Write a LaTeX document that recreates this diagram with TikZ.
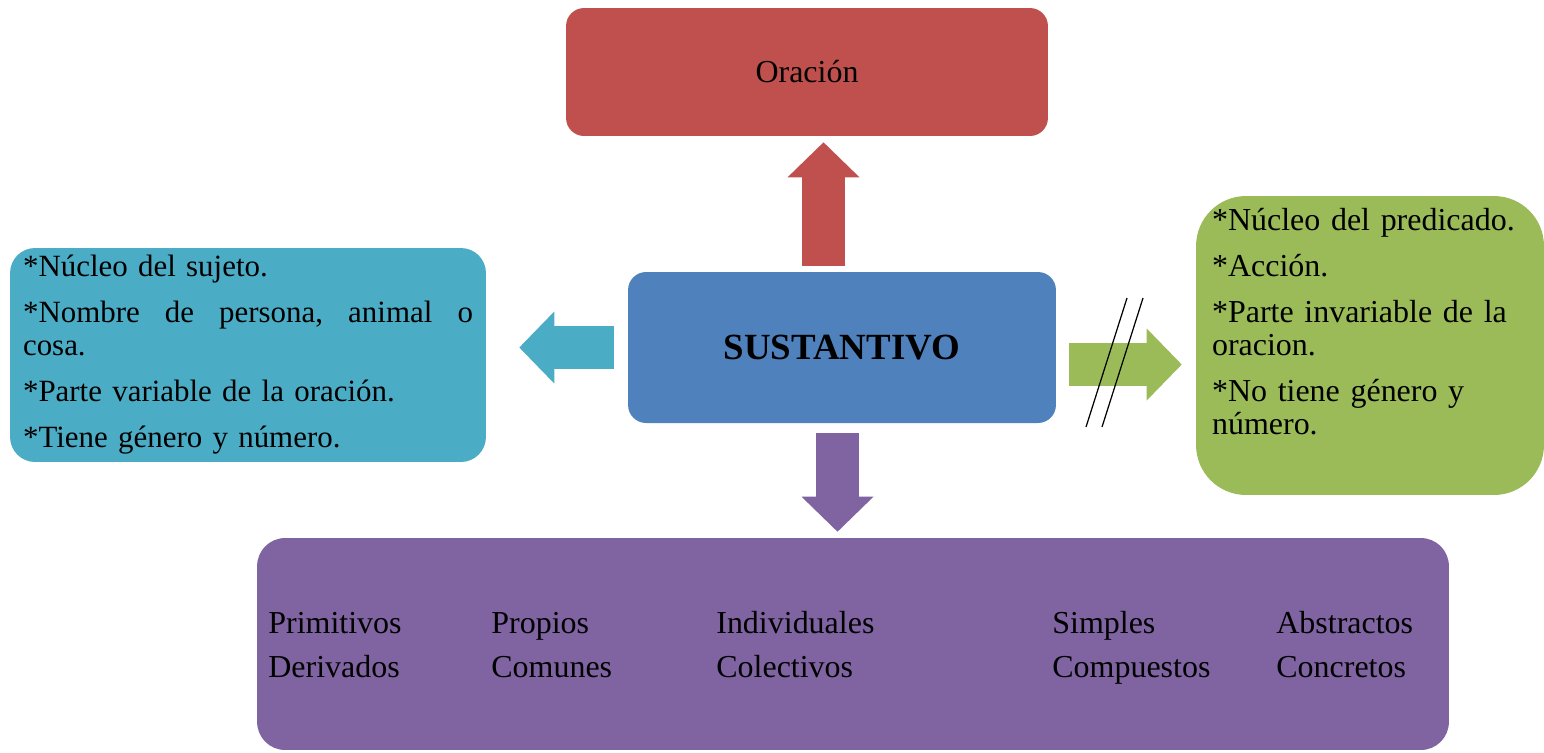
\documentclass[tikz,border=0pt]{standalone}
\usepackage{fontspec}
\setmainfont{Liberation Serif}
\usepackage{xcolor}
\usetikzlibrary{positioning,arrows.meta}
\definecolor{oraRed}{HTML}{C0504D}
\definecolor{sustBlue}{HTML}{4F81BD}
\definecolor{sujCyan}{HTML}{4BACC6}
\definecolor{predGreen}{HTML}{9BBB59}
\definecolor{clsPurple}{HTML}{8064A2}
\newcommand\txtsize{\fontsize{18.2}{18.8}\selectfont}

\begin{document}
\begin{tikzpicture}[x=0.02cm,y=-0.02cm,
  box/.style={rounded corners=#1, inner sep=0pt, font=\txtsize},
  blockarrow/.style={draw=#1, line width=0.86cm, -{Triangle[length=0.7cm,width=1.44cm,line width=0pt]}},
  word/.style={anchor=base west, inner sep=0pt, font=\txtsize}]
  \useasboundingbox (0,0) rectangle (1544,752);
  \node[box=0.36cm, fill=oraRed, minimum width=9.64cm, minimum height=2.56cm] (oracion) at (807,72) {Oración};
  \node[box=0.36cm, fill=sustBlue, minimum width=8.56cm, minimum height=3.02cm, font=\bfseries\fontsize{21}{24}\selectfont] (sust) at (842,347.5) {SUSTANTIVO};
  \node[box=0.5cm, fill=sujCyan, minimum height=4.28cm, text width=9cm, inner xsep=0.26cm, align=left,
      font=\fontsize{17.6}{18.8}\selectfont] (sujeto) at (248,355)
    {*Núcleo del sujeto.\\[7.4pt]
     *Nombre\hfill de\hfill persona,\hfill animal\hfill o\\
     cosa.\\[7.4pt]
     *Parte variable de la oración.\\[7.4pt]
     *Tiene género y número.};
  \node[box=1cm, fill=predGreen, minimum width=6.96cm, minimum height=5.98cm] (pred) at (1370,345.5) {};
  \node[word, text width=6.6cm, align=left] (predtxt) at ([xshift=0.32cm,yshift=-0.7cm]pred.north west)
    {*Núcleo del predicado.\\[7.4pt]
     *Acción.\\[7.4pt]
     *Parte invariable de la\\
     oracion.\\[7.4pt]
     *No tiene género y\\
     número.};
  \node[box=0.56cm, fill=clsPurple, minimum width=23.84cm, minimum height=4.24cm] (clases) at (853,644) {};
  \foreach \x/\a/\b [count=\i] in {268/Primitivos/Derivados, 491/Propios/Comunes, 716/Individuales/Colectivos,
      1052/Simples/Compuestos, 1276/Abstractos/Concretos} {
    \node[word] (clase\i a) at (\x,633) {\a};
    \node[word] (clase\i b) at (\x,677) {\b};
  }
  \coordinate (upfoot) at ([xshift=-0.37cm]sust.north);
  \coordinate (rightfoot) at ([yshift=-0.34cm]sust.east);
  \coordinate (downfoot) at ([xshift=-0.09cm]sust.south);
  \draw[blockarrow=oraRed, shorten <=0.12cm, shorten >=0.12cm] (upfoot) -- (upfoot |- oracion.south);
  \draw[blockarrow=sujCyan, shorten <=0.28cm, shorten >=0.66cm] (sust.west) -- (sust.west -| sujeto.east);
  \draw[blockarrow=predGreen, shorten <=0.26cm, shorten >=0.28cm] (rightfoot) -- (rightfoot -| pred.west);
  \draw[blockarrow=clsPurple, shorten <=0.2cm, shorten >=0.12cm] (downfoot) -- (downfoot |- clases.north);
  \draw[line width=0.7pt] (1086,427) -- (1127,298);
  \draw[line width=0.7pt] (1102,427) -- (1143,298);
\end{tikzpicture}
\end{document}
